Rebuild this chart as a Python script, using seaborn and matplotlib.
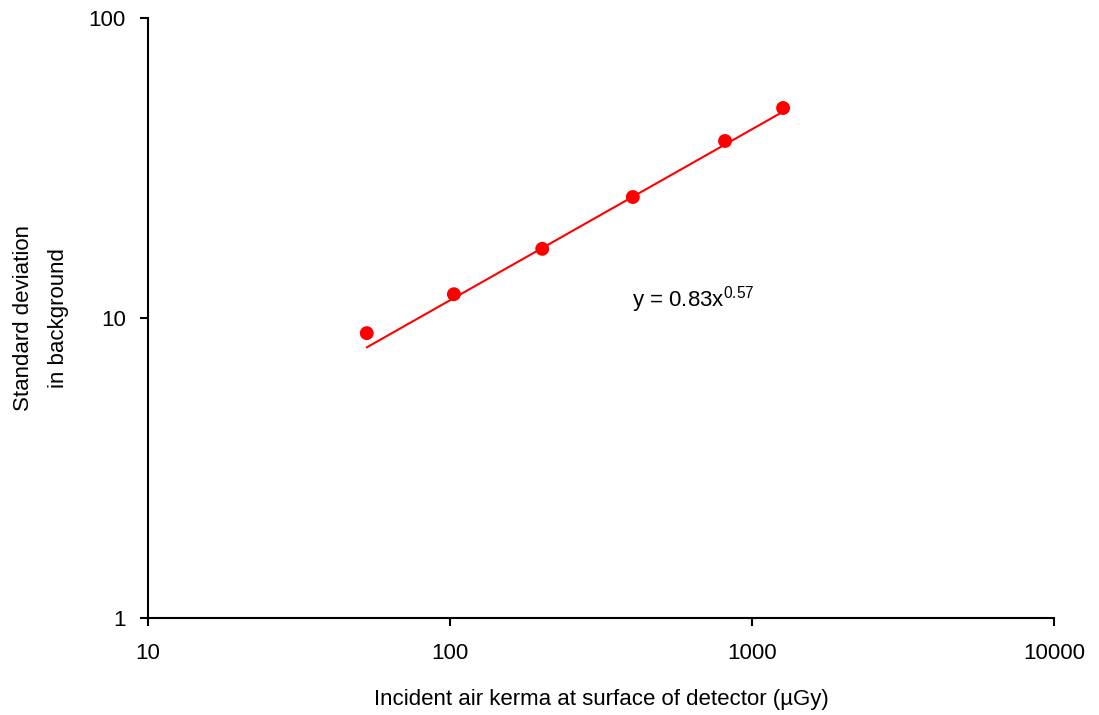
import numpy as np
import pandas as pd
import matplotlib
matplotlib.use("Agg")
import matplotlib.pyplot as plt
import seaborn as sns

# Data
air_kerma = [53, 103, 202, 403, 814, 1267]        # uGy
std_dev = [8.9, 12.0, 17.0, 25.3, 38.9, 50.1]
fit_coef = 0.83
fit_exp = 0.57

sns.set_theme(style="ticks")
plt.rcParams['font.family'] = ['Liberation Sans', 'DejaVu Sans']
plt.rcParams['mathtext.fontset'] = 'custom'
plt.rcParams['mathtext.rm'] = 'Liberation Sans'
plt.rcParams['mathtext.it'] = 'Liberation Sans'
plt.rcParams['text.color'] = 'black'
plt.rcParams['axes.labelcolor'] = 'black'

df = pd.DataFrame({'x': air_kerma, 'y': std_dev})

# power-law fit line over the range of the data
fit_x = np.array([min(air_kerma), max(air_kerma)])
fit_df = pd.DataFrame({'x': fit_x, 'y': fit_coef * fit_x ** fit_exp})

fig = plt.figure(figsize=(10.99, 7.15), dpi=100)
ax = fig.add_axes([0.1347, 0.1357, 0.8244, 0.8392])

sns.lineplot(data=fit_df, x='x', y='y', color='red', linewidth=1.5, ax=ax)
sns.scatterplot(data=df, x='x', y='y', color='red', s=100, edgecolor='none', ax=ax, zorder=3)

ax.set_xscale('log')
ax.set_yscale('log')
ax.set_xlim(10, 10000)
ax.set_ylim(1, 100)
ax.set_xticks([10, 100, 1000, 10000])
ax.set_xticklabels(['10', '100', '1000', '10000'])
ax.set_yticks([1, 10, 100])
ax.set_yticklabels(['1', '10', '100'])
ax.minorticks_off()

for side in ['top', 'right']:
    ax.spines[side].set_visible(False)
for side in ['left', 'bottom']:
    ax.spines[side].set_linewidth(1.5)
    ax.spines[side].set_color('black')
ax.tick_params(axis='both', direction='out', length=6, width=1.5, colors='black', labelsize=16)
ax.tick_params(axis='x', pad=12)
ax.tick_params(axis='y', pad=10)

ax.set_xlabel('Incident air kerma at surface of detector (\u00b5Gy)', fontsize=16, labelpad=18)
ax.set_ylabel('Standard deviation\nin background', fontsize=16, linespacing=1.9, va='center')
ax.yaxis.set_label_coords(-0.118, 0.5)

ax.text(400, 10.9, r'y = 0.83x$^{0.57}$', fontsize=16, ha='left', va='baseline')

fig.savefig('out.png', dpi=100)
